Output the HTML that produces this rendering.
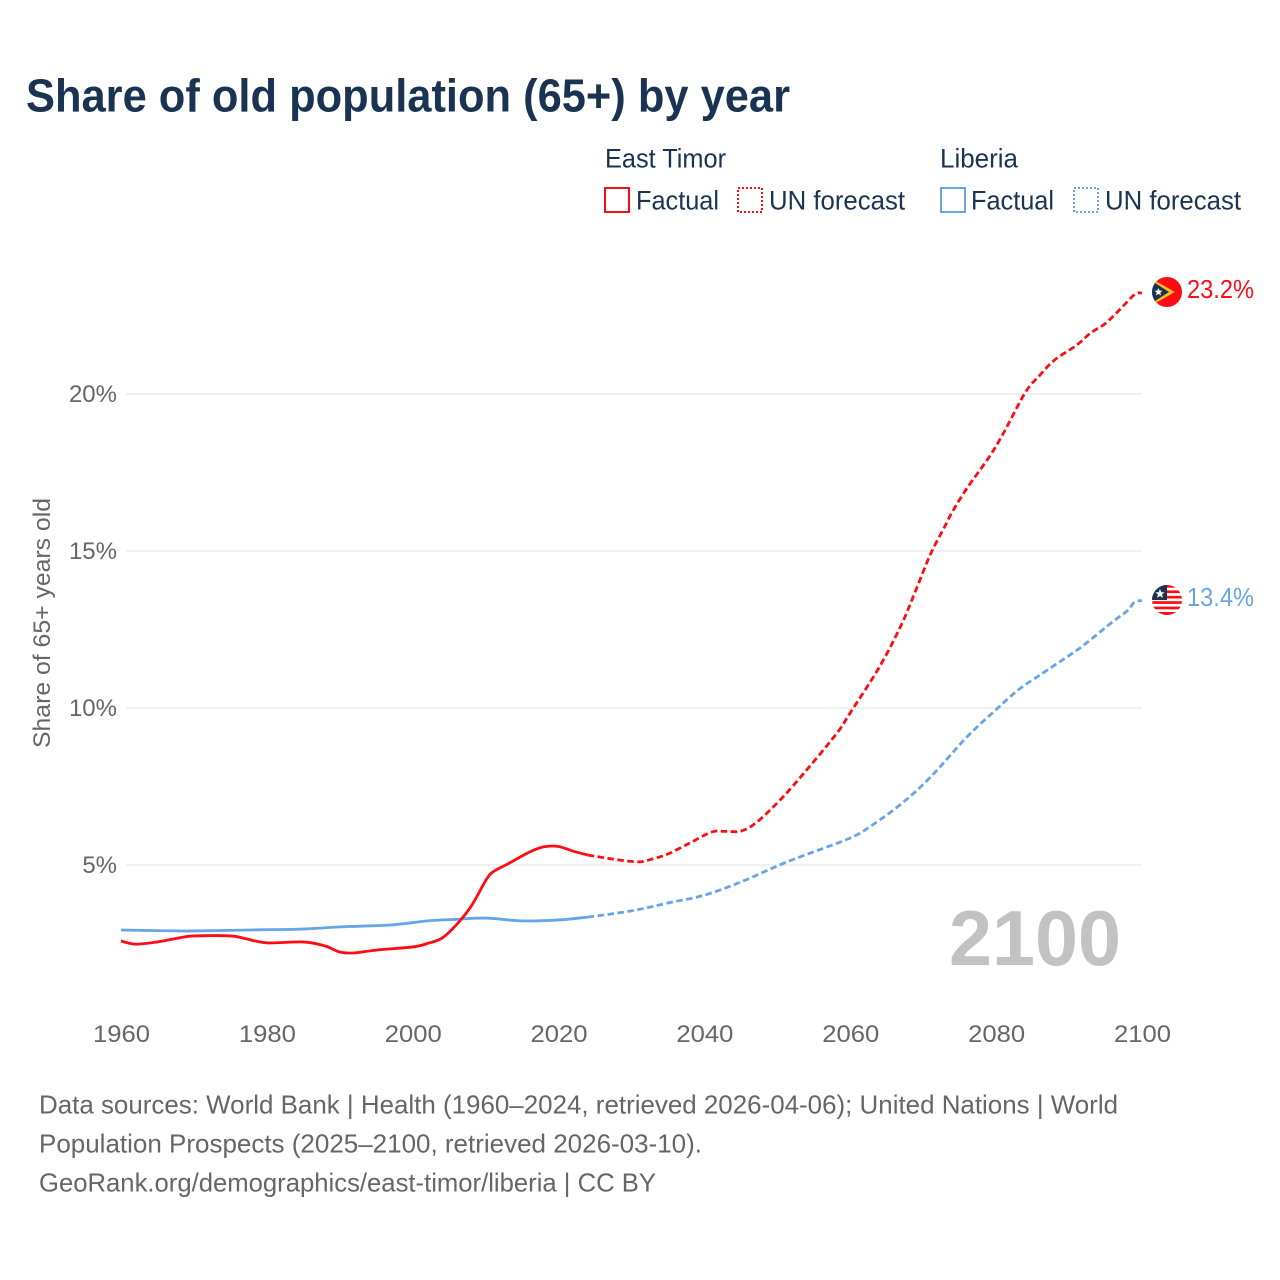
<!DOCTYPE html>
<html lang="en">
<head>
<meta charset="utf-8">
<title>Share of old population (65+) by year</title>
<style>
html,body{margin:0;padding:0;background:#fff}
svg{display:block}
text{font-family:"Liberation Sans",sans-serif}
</style>
</head>
<body>
<svg id="chart" width="1280" height="1280" viewBox="0 0 1280 1280" xmlns="http://www.w3.org/2000/svg">
<defs>
<clipPath id="clip-tl"><circle cx="1167" cy="292" r="15"/></clipPath>
<clipPath id="clip-lr"><circle cx="1167" cy="600" r="15"/></clipPath>
</defs>
<rect width="1280" height="1280" fill="#fff"/>
<text x="26" y="111.5" font-size="46" font-weight="700" fill="#1a3353" textLength="764" lengthAdjust="spacingAndGlyphs">Share of old population (65+) by year</text>

<g font-size="26.5" fill="#1a3353">
<text x="605" y="167.5" textLength="121" lengthAdjust="spacingAndGlyphs">East Timor</text>
<text x="940" y="167.5" textLength="78" lengthAdjust="spacingAndGlyphs">Liberia</text>
<rect x="605" y="188" width="24" height="24" fill="none" stroke="#ff0b13" stroke-width="2"/>
<text x="636" y="209.5" textLength="83" lengthAdjust="spacingAndGlyphs">Factual</text>
<rect x="738" y="188" width="24" height="24" fill="none" stroke="#ff0b13" stroke-width="2" stroke-dasharray="2 2"/>
<text x="769" y="209.5" textLength="136" lengthAdjust="spacingAndGlyphs">UN forecast</text>
<rect x="941" y="188" width="24" height="24" fill="none" stroke="#66a6e8" stroke-width="2"/>
<text x="971" y="209.5" textLength="83" lengthAdjust="spacingAndGlyphs">Factual</text>
<rect x="1074" y="188" width="24" height="24" fill="none" stroke="#66a6e8" stroke-width="2" stroke-dasharray="2 2"/>
<text x="1105" y="209.5" textLength="136" lengthAdjust="spacingAndGlyphs">UN forecast</text>
</g>

<g id="grid"></g>
<g id="yticks"></g>
<g id="xticks"></g>
<text transform="translate(50,748) rotate(-90)" font-size="24.5" fill="#666" textLength="250" lengthAdjust="spacingAndGlyphs">Share of 65+ years old</text>
<text x="949" y="965" font-size="78" font-weight="700" fill="#c2c2c2" textLength="172" lengthAdjust="spacingAndGlyphs">2100</text>
<g id="series"></g>

<g clip-path="url(#clip-tl)">
<rect x="1152" y="277" width="30" height="30" fill="#ff0b13"/>
<polygon points="1152,279 1175,292 1152,305" fill="#f7c21a"/>
<polygon points="1152,281 1169,292 1152,303" fill="#1a3353"/>
<polygon points="1158.5,288 1159.6,290.6 1162.4,290.8 1160.3,292.6 1161,295.4 1158.5,293.9 1156,295.4 1156.7,292.6 1154.6,290.8 1157.4,290.6" fill="#fff"/>
</g>
<g clip-path="url(#clip-lr)">
<rect x="1152" y="585" width="30" height="30" fill="#fff"/>
<rect x="1152" y="585" width="30" height="2.7" fill="#ff0b13"/>
<rect x="1152" y="590.4" width="30" height="2.7" fill="#ff0b13"/>
<rect x="1152" y="595.8" width="30" height="2.7" fill="#ff0b13"/>
<rect x="1152" y="601.2" width="30" height="2.7" fill="#ff0b13"/>
<rect x="1152" y="606.6" width="30" height="2.7" fill="#ff0b13"/>
<rect x="1152" y="612" width="30" height="3" fill="#ff0b13"/>
<rect x="1152" y="585" width="15" height="15" fill="#1a3353"/>
<polygon points="1160,589 1161.3,592.3 1164.6,592.4 1162,594.5 1163,597.8 1160,596 1157,597.8 1158,594.5 1155.4,592.4 1158.7,592.3" fill="#fff"/>
</g>
<text x="1187" y="298" font-size="25.5" fill="#ff0b13" textLength="67" lengthAdjust="spacingAndGlyphs">23.2%</text>
<text x="1187" y="606" font-size="25.5" fill="#66a6e8" textLength="67" lengthAdjust="spacingAndGlyphs">13.4%</text>

<g font-size="26" fill="#666">
<text x="39" y="1113.5" textLength="1079" lengthAdjust="spacingAndGlyphs">Data sources: World Bank | Health (1960–2024, retrieved 2026-04-06); United Nations | World</text>
<text x="39" y="1152.5" textLength="663" lengthAdjust="spacingAndGlyphs">Population Prospects (2025–2100, retrieved 2026-03-10).</text>
<text x="39" y="1191.5" textLength="617" lengthAdjust="spacingAndGlyphs">GeoRank.org/demographics/east-timor/liberia | CC BY</text>
</g>
</svg>
<script>
const xTickYears = [1960, 1980, 2000, 2020, 2040, 2060, 2080, 2100];
const yTickValues = [5, 10, 15, 20];

const timorFactualYears = [1960, 1962, 1965, 1968, 1970, 1975, 1977, 1980, 1985, 1988, 1990, 1992, 1995, 2000, 2002, 2004, 2006, 2008, 2010, 2011, 2013, 2016, 2018, 2020, 2022, 2024];
const timorFactualValues = [2.58, 2.48, 2.55, 2.68, 2.74, 2.74, 2.66, 2.52, 2.55, 2.42, 2.23, 2.2, 2.29, 2.39, 2.5, 2.67, 3.1, 3.68, 4.5, 4.78, 5.03, 5.41, 5.58, 5.59, 5.44, 5.32];
const timorForecastYears = [2024, 2026, 2028, 2031, 2033, 2035, 2038, 2041, 2043, 2045, 2047, 2050, 2053, 2058, 2060, 2064, 2067, 2069, 2071, 2073, 2074, 2076, 2079, 2081, 2084, 2086, 2088, 2091, 2093, 2095, 2097, 2099, 2100];
const timorForecastValues = [5.32, 5.24, 5.17, 5.1, 5.2, 5.35, 5.7, 6.05, 6.07, 6.08, 6.33, 6.98, 7.75, 9.15, 9.85, 11.31, 12.65, 13.76, 14.9, 15.8, 16.25, 17.0, 17.98, 18.75, 20.05, 20.6, 21.08, 21.55, 21.95, 22.25, 22.7, 23.17, 23.22];

const liberiaFactualYears = [1960, 1965, 1970, 1980, 1985, 1990, 1997, 2002, 2006, 2010, 2015, 2020, 2024];
const liberiaFactualValues = [2.93, 2.91, 2.9, 2.94, 2.96, 3.03, 3.09, 3.22, 3.27, 3.31, 3.22, 3.25, 3.34];
const liberiaForecastYears = [2024, 2030, 2035, 2040, 2045, 2050, 2053, 2060, 2063, 2067, 2071, 2076, 2080, 2083, 2086, 2090, 2092, 2096, 2098, 2099, 2100];
const liberiaForecastValues = [3.34, 3.54, 3.79, 4.04, 4.46, 4.97, 5.25, 5.86, 6.27, 6.95, 7.8, 9.08, 9.95, 10.57, 11.05, 11.67, 12.0, 12.75, 13.1, 13.38, 13.42];

function xScale(year) { return 121 + (year - 1960) * (1142 - 121) / 140; }
function yScale(value) { return 865 - (value - 5) * 31.4; }

const NS = 'http://www.w3.org/2000/svg';
function smoothPath(years, values) {
  const p = years.map(function (y, i) { return [xScale(y), yScale(values[i])]; });
  let d = 'M' + p[0][0].toFixed(2) + ' ' + p[0][1].toFixed(2);
  for (let i = 0; i < p.length - 1; i++) {
    const a = p[Math.max(0, i - 1)], b = p[i], c = p[i + 1], e = p[Math.min(p.length - 1, i + 2)];
    const c1x = b[0] + (c[0] - a[0]) / 6, c1y = b[1] + (c[1] - a[1]) / 6;
    const c2x = c[0] - (e[0] - b[0]) / 6, c2y = c[1] - (e[1] - b[1]) / 6;
    d += 'C' + c1x.toFixed(2) + ' ' + c1y.toFixed(2) + ' ' + c2x.toFixed(2) + ' ' + c2y.toFixed(2) + ' ' + c[0].toFixed(2) + ' ' + c[1].toFixed(2);
  }
  return d;
}

const gridGroup = document.getElementById('grid');
const yGroup = document.getElementById('yticks');
yTickValues.forEach(function (v) {
  const line = document.createElementNS(NS, 'line');
  
  
  line.setAttribute('x1', 126);
  line.setAttribute('x2', 1142);
  line.setAttribute('y1', yScale(v));
  line.setAttribute('y2', yScale(v));
  line.setAttribute('stroke', '#f0f0f0');
  line.setAttribute('stroke-width', 2);
  gridGroup.appendChild(line);
  const t = document.createElementNS(NS, 'text');
  
  
  t.setAttribute('x', 117);
  t.setAttribute('y', yScale(v) + 8);
  t.setAttribute('text-anchor', 'end');
  t.setAttribute('font-size', 24);
  t.setAttribute('fill', '#666');
  t.textContent = v + '%';
  yGroup.appendChild(t);
});

const xGroup = document.getElementById('xticks');
xTickYears.forEach(function (y) {
  const t = document.createElementNS(NS, 'text');
  
  
  t.setAttribute('x', xScale(y) + 0.5);
  t.setAttribute('y', 1042);
  t.setAttribute('text-anchor', 'middle');
  t.setAttribute('font-size', 24);
  t.setAttribute('fill', '#666');
  t.setAttribute('textLength', 57);
  t.setAttribute('lengthAdjust', 'spacingAndGlyphs');
  t.textContent = y;
  xGroup.appendChild(t);
});

const seriesGroup = document.getElementById('series');

const liberiaFactualLine = document.createElementNS(NS, 'path');


liberiaFactualLine.setAttribute('d', smoothPath(liberiaFactualYears, liberiaFactualValues));
liberiaFactualLine.setAttribute('fill', 'none');
liberiaFactualLine.setAttribute('stroke', '#66a6e8');
liberiaFactualLine.setAttribute('stroke-width', 2.8);
seriesGroup.appendChild(liberiaFactualLine);

const liberiaForecastLine = document.createElementNS(NS, 'path');


liberiaForecastLine.setAttribute('d', smoothPath(liberiaForecastYears, liberiaForecastValues));
liberiaForecastLine.setAttribute('fill', 'none');
liberiaForecastLine.setAttribute('stroke', '#66a6e8');
liberiaForecastLine.setAttribute('stroke-width', 2.8);
liberiaForecastLine.setAttribute('stroke-dasharray', '6.5 3.5');
seriesGroup.appendChild(liberiaForecastLine);

const timorFactualLine = document.createElementNS(NS, 'path');


timorFactualLine.setAttribute('d', smoothPath(timorFactualYears, timorFactualValues));
timorFactualLine.setAttribute('fill', 'none');
timorFactualLine.setAttribute('stroke', '#ff0b13');
timorFactualLine.setAttribute('stroke-width', 2.8);
seriesGroup.appendChild(timorFactualLine);

const timorForecastLine = document.createElementNS(NS, 'path');


timorForecastLine.setAttribute('d', smoothPath(timorForecastYears, timorForecastValues));
timorForecastLine.setAttribute('fill', 'none');
timorForecastLine.setAttribute('stroke', '#ff0b13');
timorForecastLine.setAttribute('stroke-width', 2.8);
timorForecastLine.setAttribute('stroke-dasharray', '6.5 3.5');
seriesGroup.appendChild(timorForecastLine);
</script>
</body>
</html>
